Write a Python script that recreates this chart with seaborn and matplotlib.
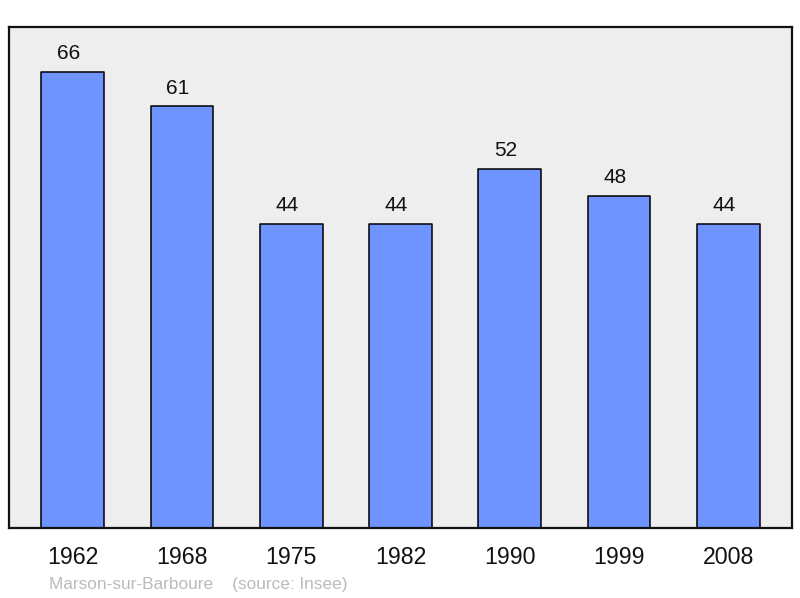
import pandas as pd
import seaborn as sns
import matplotlib.pyplot as plt

years = ['1962', '1968', '1975', '1982', '1990', '1999', '2008']
population = [66, 61, 44, 44, 52, 48, 44]

sns.set_style('white')
plt.rcParams['font.family'] = ['Liberation Sans', 'DejaVu Sans']

df = pd.DataFrame({'year': years, 'pop': population})

fig = plt.figure(figsize=(8, 5.98), dpi=100)
ax = fig.add_axes([9 / 800, 1 - 528 / 598, 783 / 800, 501 / 598])
ax.set_facecolor('#eeeeee')

sns.barplot(data=df, x='year', y='pop', color='#7094ff', saturation=1,
            edgecolor='black', linewidth=1.1, width=0.575, ax=ax)
for p in ax.patches:
    p.set_joinstyle('round')

# value labels above the bars
for i, v in enumerate(population):
    ax.annotate(str(v), (i, v), xytext=(-3, 13.2), textcoords='offset points',
                ha='center', va='center', fontsize=15, color='#111111')

ax.set_ylim(0, 72.5)
ax.set_xlim(-0.585, 6.585)
ax.set_yticks([])
ax.set_xlabel('')
ax.set_ylabel('')
ax.tick_params(axis='x', length=0, pad=13, labelsize=16.7, colors='#111111')
for s in ax.spines.values():
    s.set_linewidth(1.6)
    s.set_color('#111111')

fig.text(49 / 800, 1 - 584 / 598, 'Marson-sur-Barboure    (source: Insee)',
         fontsize=12.4, color='#bbbbbb', ha='left', va='center')

fig.savefig('out.png', dpi=100)
